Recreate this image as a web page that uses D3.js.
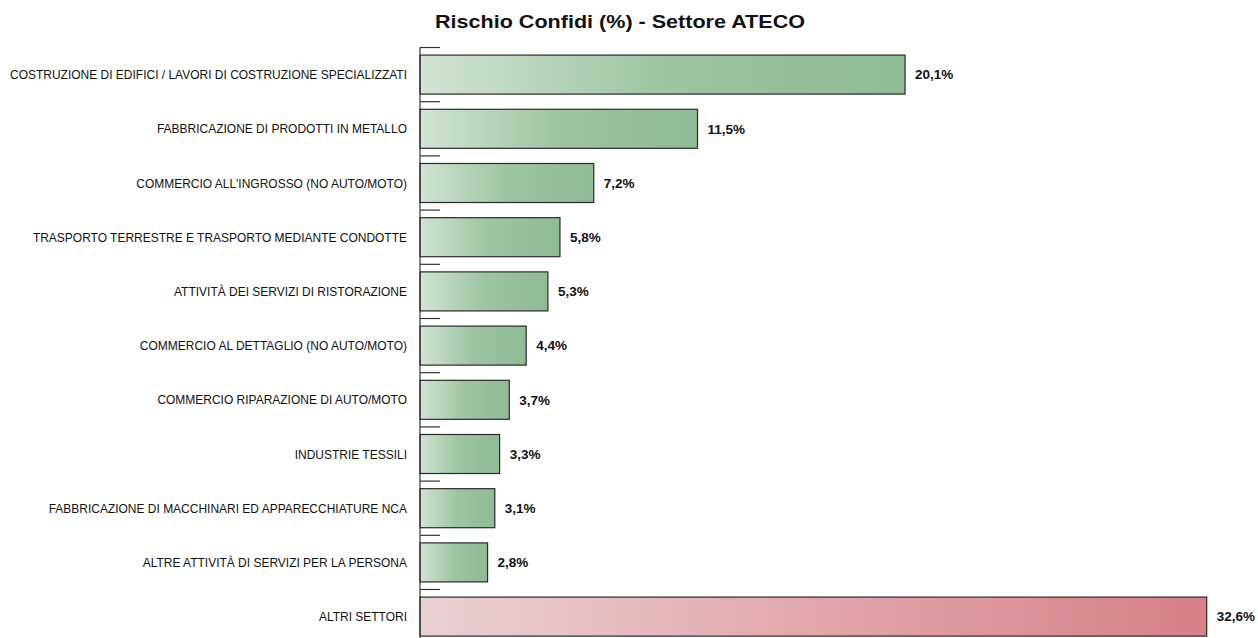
<!DOCTYPE html>
<html>
<head>
<meta charset="utf-8">
<script src="https://cdn.jsdelivr.net/npm/d3@7"></script>
<style>
  html, body { margin: 0; padding: 0; background: #fff; }
  svg { display: block; }
</style>
</head>
<body>
<svg id="chart" width="1258" height="638"></svg>
<script>
// Settori ATECO e quota di rischio (%)
const categories = [
  "COSTRUZIONE DI EDIFICI / LAVORI DI COSTRUZIONE SPECIALIZZATI",
  "FABBRICAZIONE DI PRODOTTI IN METALLO",
  "COMMERCIO ALL'INGROSSO (NO AUTO/MOTO)",
  "TRASPORTO TERRESTRE E TRASPORTO MEDIANTE CONDOTTE",
  "ATTIVITÀ DEI SERVIZI DI RISTORAZIONE",
  "COMMERCIO AL DETTAGLIO (NO AUTO/MOTO)",
  "COMMERCIO RIPARAZIONE DI AUTO/MOTO",
  "INDUSTRIE TESSILI",
  "FABBRICAZIONE DI MACCHINARI ED APPARECCHIATURE NCA",
  "ALTRE ATTIVITÀ DI SERVIZI PER LA PERSONA",
  "ALTRI SETTORI"
];
const values = [20.1, 11.5, 7.2, 5.8, 5.3, 4.4, 3.7, 3.3, 3.1, 2.8, 32.6];
const groups = ["settore", "settore", "settore", "settore", "settore", "settore",
                "settore", "settore", "settore", "settore", "altri"];
const title = "Rischio Confidi (%) - Settore ATECO";

const svg = d3.select("#chart");
const fmt = v => d3.format(".1f")(v).replace(".", ",") + "%";

const x = d3.scaleLinear().domain([0, 32.6]).range([420, 1206.7]);
const y = d3.scaleBand()
  .domain(categories)
  .range([47.5, 643.7])
  .paddingInner(0.28)
  .paddingOuter(0.14);

// gradients
const defs = svg.append("defs");
const gGreen = defs.append("linearGradient").attr("id", "grad-settore")
  .attr("x1", "0%").attr("x2", "100%").attr("y1", "0%").attr("y2", "0%");
gGreen.append("stop").attr("offset", "0%").attr("stop-color", "#d1e4d3");
gGreen.append("stop").attr("offset", "50%").attr("stop-color", "#9dc5a1");
gGreen.append("stop").attr("offset", "100%").attr("stop-color", "#8fbb95");
const gRed = defs.append("linearGradient").attr("id", "grad-altri")
  .attr("x1", "0%").attr("x2", "100%").attr("y1", "0%").attr("y2", "0%");
gRed.append("stop").attr("offset", "0%").attr("stop-color", "#ebd1d4");
gRed.append("stop").attr("offset", "50%").attr("stop-color", "#e2a7ab");
gRed.append("stop").attr("offset", "100%").attr("stop-color", "#d78088");

// title
svg.append("text")
  .attr("x", 435).attr("y", 28)
  .attr("textLength", 370)
  .attr("lengthAdjust", "spacingAndGlyphs")
  .style("font-family", "'Liberation Sans', Arial, sans-serif")
  .style("font-weight", "bold")
  .style("font-size", "18px")
  .attr("fill", "#111")
  .text(title);

// bars
const step = y.step();
const tickOffset = step * y.paddingInner() / 2;

svg.append("g").selectAll("rect")
  .data(categories)
  .join("rect")
  .attr("x", x(0))
  .attr("y", d => y(d))
  .attr("width", (d, i) => x(values[i]) - x(0))
  .attr("height", y.bandwidth())
  .attr("fill", (d, i) => `url(#grad-${groups[i]})`)
  .attr("stroke", "#2a2a2a")
  .attr("stroke-width", 1.2);

// axis: vertical line and boundary ticks
const axis = svg.append("g").attr("stroke", "#333").attr("stroke-width", 1.2);
axis.append("line")
  .attr("x1", x(0)).attr("x2", x(0))
  .attr("y1", y.range()[0]).attr("y2", y.range()[1]);
axis.selectAll("line.tick")
  .data(categories)
  .join("line")
  .attr("class", "tick")
  .attr("x1", x(0)).attr("x2", x(0) + 20)
  .attr("y1", d => y(d) - tickOffset)
  .attr("y2", d => y(d) - tickOffset);

// category labels, set in a condensed width
const labelRight = 407;
const labels = svg.append("g").selectAll("text")
  .data(categories)
  .join("text")
  .attr("x", 0)
  .attr("y", 0)
  .attr("dy", "0.35em")
  .attr("text-anchor", "end")
  .style("font-family", "'Liberation Sans', Arial, sans-serif")
  .style("font-size", "13px")
  .attr("fill", "#111")
  .text(d => d);
const widest = d3.max(labels.nodes(), n => n.getComputedTextLength());
const squeeze = 397 / widest;
labels.attr("transform", d =>
  `translate(${labelRight},${y(d) + y.bandwidth() / 2}) scale(${squeeze},1)`);

// value labels
svg.append("g").selectAll("text")
  .data(categories)
  .join("text")
  .attr("x", (d, i) => x(values[i]) + 10)
  .attr("y", d => y(d) + y.bandwidth() / 2)
  .attr("dy", "0.35em")
  .style("font-family", "'Liberation Sans', Arial, sans-serif")
  .style("font-weight", "bold")
  .style("font-size", "13.5px")
  .attr("fill", "#111")
  .text((d, i) => fmt(values[i]));
</script>
</body>
</html>
